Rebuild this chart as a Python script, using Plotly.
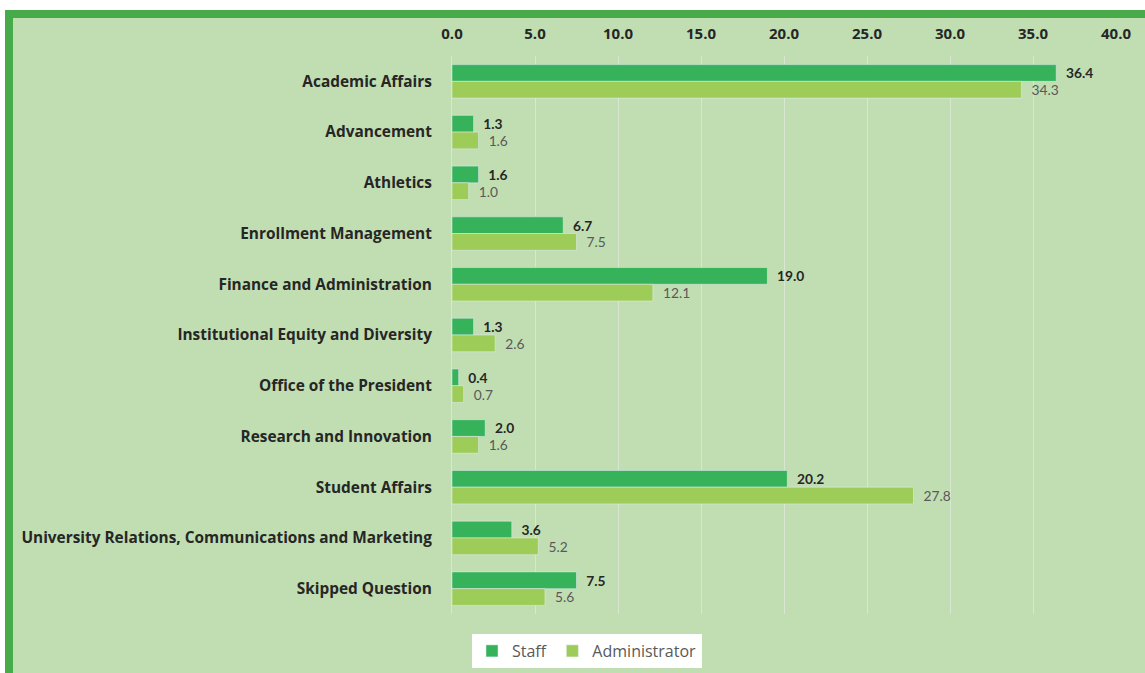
import plotly.graph_objects as go

# Data
departments = [
    "Academic Affairs",
    "Advancement",
    "Athletics",
    "Enrollment Management",
    "Finance and Administration",
    "Institutional Equity and Diversity",
    "Office of the President",
    "Research and Innovation",
    "Student Affairs",
    "University Relations, Communications and Marketing",
    "Skipped Question",
]
staff = [36.4, 1.3, 1.6, 6.7, 19.0, 1.3, 0.4, 2.0, 20.2, 3.6, 7.5]
administrator = [34.3, 1.6, 1.0, 7.5, 12.1, 2.6, 0.7, 1.6, 27.8, 5.2, 5.6]
x_ticks = [0, 5, 10, 15, 20, 25, 30, 35, 40]

W, H = 1145, 673
L, R, T, B = 452, 29, 56, 59
PW, PH = W - L - R, H - T - B

BG = "#c1deb2"
BORDER = "#46ab48"
STAFF_C = "#36b35a"
ADMIN_C = "#9dcd58"
FONT = "Open Sans"
NUM_FONT = "Lato"


def px_x(p):
    return (p - L) / PW


def px_y(p):
    return (H - B - p) / PH


fig = go.Figure()
fig.add_trace(go.Bar(
    name="Staff",
    y=departments,
    x=staff,
    orientation="h",
    marker_color=STAFF_C,
    text=[f"\u00a0\u00a0{v:.1f}" for v in staff],
    textposition="outside",
    cliponaxis=False,
    textfont=dict(family=NUM_FONT, size=14, color="#262626", weight="bold"),
))
fig.add_trace(go.Bar(
    name="Administrator",
    y=departments,
    x=administrator,
    orientation="h",
    marker_color=ADMIN_C,
    text=[f"\u00a0\u00a0{v:.1f}" for v in administrator],
    textposition="outside",
    cliponaxis=False,
    textfont=dict(family=NUM_FONT, size=14, color="#595959"),
))

shapes = [
    # white strip above and left of the chart box
    dict(type="rect", xref="paper", yref="paper", x0=px_x(0), x1=px_x(W + 5),
         y0=px_y(10), y1=px_y(-5), fillcolor="white", line_width=0),
    dict(type="rect", xref="paper", yref="paper", x0=px_x(-5), x1=px_x(5),
         y0=px_y(H + 5), y1=px_y(-5), fillcolor="white", line_width=0),
    # green border top and left
    dict(type="rect", xref="paper", yref="paper", x0=px_x(5), x1=px_x(W + 5),
         y0=px_y(18), y1=px_y(10), fillcolor=BORDER, line_width=0),
    dict(type="rect", xref="paper", yref="paper", x0=px_x(5), x1=px_x(13),
         y0=px_y(H + 5), y1=px_y(10), fillcolor=BORDER, line_width=0),
]

fig.update_layout(
    width=W,
    height=H,
    margin=dict(l=L, r=R, t=T, b=B, pad=0, autoexpand=False),
    paper_bgcolor=BG,
    plot_bgcolor=BG,
    barmode="group",
    bargap=0.34,
    bargroupgap=0.0,
    shapes=shapes,
    font=dict(family=FONT, color="#262626"),
    xaxis=dict(
        side="top",
        range=[0, 40],
        tickvals=x_ticks,
        tickformat=".1f",
        tickfont=dict(family=FONT, size=15, color="#262626", weight="bold"),
        ticks="outside",
        ticklen=10,
        tickcolor="rgba(0,0,0,0)",
        showgrid=True,
        gridcolor="#d9e6d2",
        gridwidth=1,
        zeroline=False,
        showline=False,
        automargin=False,
        fixedrange=True,
    ),
    yaxis=dict(
        autorange="reversed",
        tickfont=dict(family=FONT, size=15.4, color="#262626", weight="bold"),
        ticks="outside",
        ticklen=16,
        tickcolor="rgba(0,0,0,0)",
        showgrid=False,
        showline=True,
        linecolor="#d9e6d2",
        linewidth=1,
        zeroline=False,
        automargin=False,
        fixedrange=True,
    ),
    legend=dict(
        orientation="h",
        x=px_x(472),
        xanchor="left",
        y=px_y(634),
        yanchor="top",
        bgcolor="white",
        font=dict(family=FONT, size=16, color="#595959"),
        itemwidth=30,
        traceorder="normal",
    ),
    showlegend=True,
)

fig.write_html(
    "out.html",
    config={"displayModeBar": False},
    post_script="document.body.style.margin='0';",
)
